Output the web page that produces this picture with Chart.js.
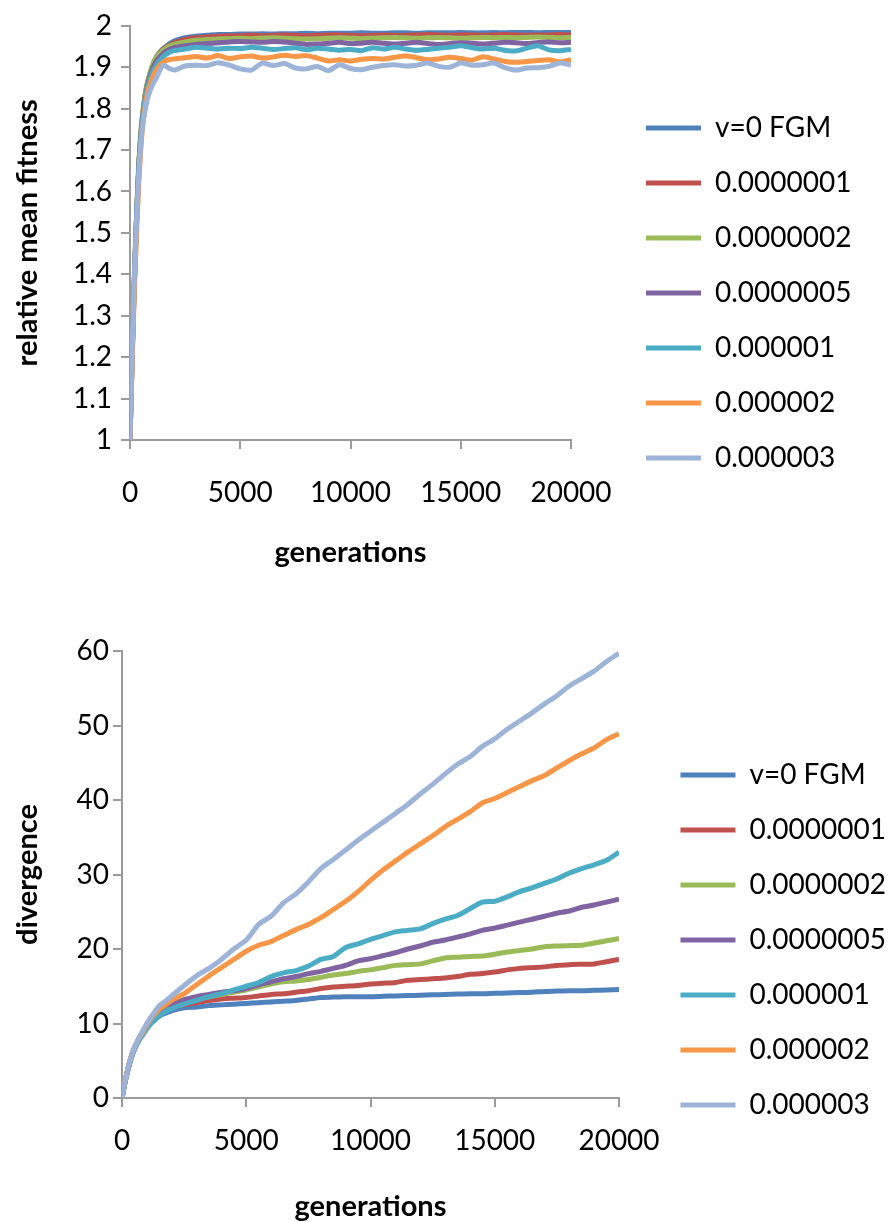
<!DOCTYPE html>
<html>
<head>
<meta charset="utf-8">
<script src="https://cdn.jsdelivr.net/npm/chart.js@4.4.1/dist/chart.umd.min.js"></script>
<style>
  html, body { margin: 0; padding: 0; background: #fff; overflow: hidden; }
  #page { position: relative; width: 896px; height: 1222px; overflow: hidden; }
  canvas { position: absolute; left: 0; }
  #fitnessChart { top: 0; }
  #divergenceChart { top: 568px; }
</style>
</head>
<body>
<div id="page">
  <canvas id="fitnessChart" width="896" height="568"></canvas>
  <canvas id="divergenceChart" width="896" height="661"></canvas>
</div>
<script>
// ── DATA ──
const generations = [0, 100, 200, 300, 400, 500, 600, 700, 800, 1000, 1200, 1500, 1750, 2000,
  2500, 3000, 3500, 4000, 4500, 5000, 5500, 6000, 6500, 7000, 7500, 8000, 8500, 9000, 9500, 10000,
  10500, 11000, 11500, 12000, 12500, 13000, 13500, 14000, 14500, 15000, 15500, 16000, 16500, 17000,
  17500, 18000, 18500, 19000, 19500, 20000];

const seriesNames = ['v=0 FGM', '0.0000001', '0.0000002', '0.0000005', '0.000001', '0.000002', '0.000003'];
const seriesColors = ['#4f81bd', '#c0504d', '#9bbb59', '#8064a2', '#4bacc6', '#f79646', '#9db3d8'];

const generationTicks = [0, 5000, 10000, 15000, 20000];
const fitnessTicks = [1, 1.1, 1.2, 1.3, 1.4, 1.5, 1.6, 1.7, 1.8, 1.9, 2];
const divergenceTicks = [0, 10, 20, 30, 40, 50, 60];

// relative mean fitness
const fitBlue = [1.0, 1.21, 1.39, 1.54, 1.66, 1.74, 1.795, 1.835, 1.862, 1.9, 1.925, 1.945, 1.955, 1.963,
  1.971, 1.975, 1.977, 1.979, 1.979, 1.98, 1.98, 1.981, 1.98, 1.981, 1.981, 1.982, 1.981, 1.982, 1.982, 1.982,
  1.983, 1.982, 1.982, 1.983, 1.983, 1.982, 1.983, 1.983, 1.983, 1.984, 1.983, 1.983, 1.984, 1.983, 1.984,
  1.984, 1.983, 1.984, 1.984, 1.984];
const fitRed = [1.0, 1.21, 1.39, 1.54, 1.66, 1.74, 1.795, 1.835, 1.862, 1.9, 1.924, 1.943, 1.952, 1.959,
  1.967, 1.971, 1.973, 1.975, 1.976, 1.976, 1.977, 1.976, 1.977, 1.978, 1.977, 1.976, 1.977, 1.978, 1.978,
  1.977, 1.976, 1.977, 1.978, 1.977, 1.977, 1.978, 1.979, 1.978, 1.977, 1.978, 1.978, 1.977, 1.978, 1.979,
  1.978, 1.977, 1.978, 1.978, 1.979, 1.978];
const fitGreen = [1.0, 1.22, 1.40, 1.55, 1.67, 1.75, 1.80, 1.84, 1.866, 1.902, 1.924, 1.941, 1.95, 1.955,
  1.961, 1.965, 1.967, 1.968, 1.969, 1.97, 1.969, 1.97, 1.971, 1.97, 1.969, 1.968, 1.969, 1.97, 1.971, 1.97,
  1.969, 1.97, 1.971, 1.972, 1.971, 1.97, 1.971, 1.972, 1.971, 1.97, 1.971, 1.972, 1.971, 1.972, 1.971,
  1.972, 1.973, 1.972, 1.971, 1.972];
const fitPurple = [1.0, 1.21, 1.39, 1.54, 1.66, 1.74, 1.79, 1.83, 1.858, 1.893, 1.915, 1.933, 1.942, 1.947,
  1.952, 1.955, 1.957, 1.959, 1.961, 1.962, 1.961, 1.96, 1.962, 1.961, 1.958, 1.955, 1.956, 1.958, 1.96,
  1.957, 1.958, 1.96, 1.958, 1.956, 1.958, 1.96, 1.957, 1.955, 1.957, 1.959, 1.958, 1.956, 1.958, 1.96,
  1.959, 1.957, 1.96, 1.961, 1.959, 1.96];
const fitAqua = [1.0, 1.2, 1.38, 1.53, 1.65, 1.73, 1.785, 1.825, 1.85, 1.885, 1.905, 1.925, 1.935, 1.94,
  1.944, 1.948, 1.946, 1.944, 1.946, 1.945, 1.948, 1.946, 1.943, 1.945, 1.947, 1.942, 1.946, 1.944, 1.941,
  1.943, 1.940, 1.947, 1.944, 1.948, 1.944, 1.941, 1.943, 1.946, 1.948, 1.952, 1.947, 1.944, 1.946, 1.941,
  1.939, 1.946, 1.952, 1.942, 1.940, 1.943];
const fitOrange = [1.0, 1.19, 1.36, 1.5, 1.62, 1.71, 1.77, 1.81, 1.84, 1.873, 1.895, 1.912, 1.918, 1.92,
  1.923, 1.926, 1.922, 1.928, 1.921, 1.925, 1.927, 1.922, 1.925, 1.929, 1.926, 1.928, 1.922, 1.915, 1.918,
  1.915, 1.919, 1.921, 1.920, 1.924, 1.927, 1.923, 1.918, 1.920, 1.924, 1.921, 1.917, 1.925, 1.920, 1.914,
  1.912, 1.914, 1.916, 1.918, 1.913, 1.918];
const fitLight = [1.0, 1.22, 1.40, 1.53, 1.64, 1.72, 1.77, 1.80, 1.825, 1.855, 1.875, 1.905, 1.898, 1.893,
  1.903, 1.905, 1.904, 1.911, 1.905, 1.896, 1.893, 1.910, 1.904, 1.909, 1.898, 1.896, 1.902, 1.892, 1.906,
  1.897, 1.894, 1.900, 1.904, 1.906, 1.903, 1.905, 1.910, 1.902, 1.900, 1.910, 1.905, 1.906, 1.910, 1.899,
  1.893, 1.898, 1.899, 1.902, 1.910, 1.905];

// divergence
const divBlue = [0, 1.8, 3.3, 4.6, 5.7, 6.6, 7.3, 7.9, 8.4, 9.4, 10.2, 11.0, 11.4, 11.7,
  12.1, 12.2, 12.4, 12.5, 12.6, 12.7, 12.8, 12.9, 13.0, 13.1, 13.3, 13.5, 13.55, 13.6, 13.6, 13.6,
  13.65, 13.7, 13.75, 13.8, 13.85, 13.9, 13.95, 14.0, 14.0, 14.05, 14.1, 14.15, 14.2, 14.3, 14.35,
  14.4, 14.4, 14.45, 14.5, 14.55];
const divRed = [0, 1.8, 3.3, 4.6, 5.7, 6.6, 7.3, 7.9, 8.4, 9.5, 10.4, 11.3, 11.8, 12.1,
  12.5, 12.8, 13.1, 13.3, 13.4, 13.5, 13.7, 13.9, 14.0, 14.2, 14.4, 14.7, 14.9, 15.0, 15.1, 15.3,
  15.4, 15.5, 15.8, 15.9, 16.0, 16.1, 16.3, 16.6, 16.7, 16.9, 17.2, 17.4, 17.5, 17.6, 17.8,
  17.9, 17.95, 18.0, 18.3, 18.6];
const divGreen = [0, 1.9, 3.4, 4.8, 5.9, 6.8, 7.5, 8.1, 8.7, 9.9, 10.9, 12.0, 12.6, 12.8,
  13.0, 13.3, 13.6, 13.9, 14.2, 14.5, 14.9, 15.3, 15.6, 15.7, 15.9, 16.2, 16.5, 16.7, 17.0, 17.2,
  17.5, 17.8, 17.9, 18.0, 18.4, 18.8, 18.9, 19.0, 19.05, 19.3, 19.6, 19.8, 20.0, 20.3, 20.4,
  20.45, 20.5, 20.8, 21.1, 21.4];
const divPurple = [0, 1.8, 3.3, 4.7, 5.8, 6.7, 7.4, 8.0, 8.5, 9.7, 10.6, 11.7, 12.2, 12.6,
  13.2, 13.6, 13.9, 14.2, 14.4, 14.7, 15.2, 15.6, 16.0, 16.3, 16.7, 17.0, 17.4, 17.8, 18.4, 18.7,
  19.1, 19.5, 20.0, 20.4, 20.9, 21.2, 21.6, 22.0, 22.5, 22.8, 23.2, 23.6, 24.0, 24.4, 24.8,
  25.1, 25.6, 25.9, 26.3, 26.7];
const divAqua = [0, 1.7, 3.2, 4.5, 5.6, 6.5, 7.2, 7.8, 8.3, 9.3, 10.1, 11.0, 11.6, 12.0,
  12.6, 13.1, 13.6, 14.0, 14.5, 15.0, 15.5, 16.3, 16.8, 17.1, 17.7, 18.6, 19.0, 20.2, 20.7, 21.3,
  21.8, 22.3, 22.5, 22.7, 23.4, 24.0, 24.5, 25.4, 26.3, 26.4, 27.0, 27.7, 28.2, 28.8, 29.4,
  30.2, 30.8, 31.3, 31.9, 33.0];
const divOrange = [0, 1.9, 3.4, 4.8, 5.9, 6.8, 7.5, 8.1, 8.6, 9.8, 10.8, 11.9, 12.5, 13.1,
  14.0, 15.2, 16.4, 17.5, 18.6, 19.7, 20.5, 21.0, 21.8, 22.6, 23.3, 24.2, 25.3, 26.4, 27.7, 29.2,
  30.6, 31.8, 33.0, 34.1, 35.2, 36.4, 37.4, 38.4, 39.6, 40.2, 41.0, 41.8, 42.6, 43.3, 44.3,
  45.3, 46.2, 47.0, 48.1, 48.9];
const divLight = [0, 1.9, 3.4, 4.8, 5.9, 6.8, 7.5, 8.2, 8.8, 10.0, 11.0, 12.4, 13.0, 13.7,
  15.1, 16.4, 17.4, 18.6, 20.0, 21.2, 23.3, 24.4, 26.2, 27.4, 29.0, 30.8, 32.0, 33.3, 34.6, 35.8,
  37.0, 38.2, 39.4, 40.8, 42.1, 43.5, 44.8, 45.8, 47.2, 48.2, 49.5, 50.6, 51.7, 52.9, 54.0,
  55.3, 56.3, 57.3, 58.6, 59.7];

// ── SHARED STYLE ──
const FONT = 'Lato, Carlito, "Liberation Sans", sans-serif';
Chart.defaults.font.family = FONT;
Chart.defaults.color = '#000';
const AXIS_GREY = '#9b9b9b';
const LEGEND_LINE = 55;   // legend line length
const LEGEND_STEP = 55;   // distance between legend rows

// legend text: shrink a little if the font runs wider than the original
const measure = document.createElement('canvas').getContext('2d');
measure.font = '28px ' + FONT;
const widest28 = Math.max(...seriesNames.map(n => measure.measureText(n).width));
const legendSize = Math.min(28, Math.floor(28 * 138 / widest28));
const legendPad = LEGEND_STEP - legendSize;
// chart.js adds 10px to a vertical legend
const legendWidth = legendPad + LEGEND_LINE + legendSize / 2 + widest28 * legendSize / 28 + 10;

function buildDatasets(seriesValues) {
  return seriesValues.map((values, i) => ({
    label: seriesNames[i],
    data: generations.map((g, j) => ({ x: g, y: values[j] })),
    borderColor: seriesColors[i],
    backgroundColor: seriesColors[i],
    pointBorderColor: seriesColors[i],
    pointBorderWidth: 5,
    borderWidth: 5,
    pointRadius: 0,
    tension: 0.25,
    // later series are painted on top, like the original
    order: seriesValues.length - i
  }));
}

// plotRight: right edge of the plot, lineLeft: where the legend lines begin
function buildOptions(o) {
  const legendLeft = o.lineLeft - legendPad;
  const padRight = Math.max(0, 896 - legendLeft - legendWidth);
  const gap = 896 - padRight - legendWidth - o.plotRight;
  return {
    responsive: false,
    animation: false,
    events: [],
    layout: { padding: { top: o.padTop, right: padRight, bottom: 0, left: 0 } },
    plugins: {
      tooltip: { enabled: false },
      legend: {
        position: 'right',
        align: 'center',
        maxWidth: 400,
        labels: {
          usePointStyle: true,
          pointStyle: 'line',
          pointStyleWidth: LEGEND_LINE,
          padding: legendPad,
          font: { size: legendSize },
          color: '#000',
          sort: (a, b) => a.datasetIndex - b.datasetIndex
        }
      }
    },
    scales: {
      x: {
        type: 'linear',
        min: 0,
        max: 20000,
        afterBuildTicks: s => { s.ticks = generationTicks.map(v => ({ value: v })); },
        ticks: { font: { size: 28 }, padding: o.xTickPad, maxRotation: 0, callback: v => String(v) },
        grid: { drawOnChartArea: false, tickLength: 9, color: AXIS_GREY, lineWidth: 2 },
        border: { color: AXIS_GREY, width: 2 },
        title: {
          display: true, text: 'generations',
          font: { size: 29, weight: 'bold', lineHeight: 1 },
          padding: { top: 0, bottom: o.xTitlePad }
        },
        afterFit: s => { s.height = o.xHeight; }
      },
      y: {
        type: 'linear',
        min: o.yTicks[0],
        max: o.yTicks[o.yTicks.length - 1],
        afterBuildTicks: s => { s.ticks = o.yTicks.map(v => ({ value: v })); },
        ticks: { font: { size: 28 }, padding: o.yTickPad, callback: v => String(v) },
        grid: { drawOnChartArea: false, tickLength: 9, color: AXIS_GREY, lineWidth: 2 },
        border: { color: AXIS_GREY, width: 2 },
        title: {
          display: true, text: o.yTitle,
          font: { size: 29, weight: 'bold', lineHeight: 1 },
          padding: { top: 13.5, bottom: 0 }
        },
        afterFit: s => { s.width = o.yWidth; }
      },
      // empty axis that keeps the gap between plot and legend
      gap: {
        type: 'linear',
        position: 'right',
        grid: { display: false },
        border: { display: false },
        ticks: { display: false },
        afterFit: s => { s.width = gap; }
      }
    }
  };
}

// ── FITNESS CHART ──
new Chart(document.getElementById('fitnessChart'), {
  type: 'line',
  data: { datasets: buildDatasets([fitBlue, fitRed, fitGreen, fitPurple, fitAqua, fitOrange, fitLight]) },
  options: buildOptions({
    padTop: 18, plotRight: 571, lineLeft: 646,
    yWidth: 130, yTickPad: 9, yTicks: fitnessTicks, yTitle: 'relative mean fitness',
    xHeight: 128, xTickPad: 27, xTitlePad: 0.5
  })
});

// ── DIVERGENCE CHART ──
new Chart(document.getElementById('divergenceChart'), {
  type: 'line',
  data: { datasets: buildDatasets([divBlue, divRed, divGreen, divPurple, divAqua, divOrange, divLight]) },
  options: buildOptions({
    padTop: 83, plotRight: 619, lineLeft: 690,
    yWidth: 122, yTickPad: 4, yTicks: divergenceTicks, yTitle: 'divergence',
    xHeight: 131, xTickPad: 17, xTitlePad: 7.5
  })
});
</script>
</body>
</html>
